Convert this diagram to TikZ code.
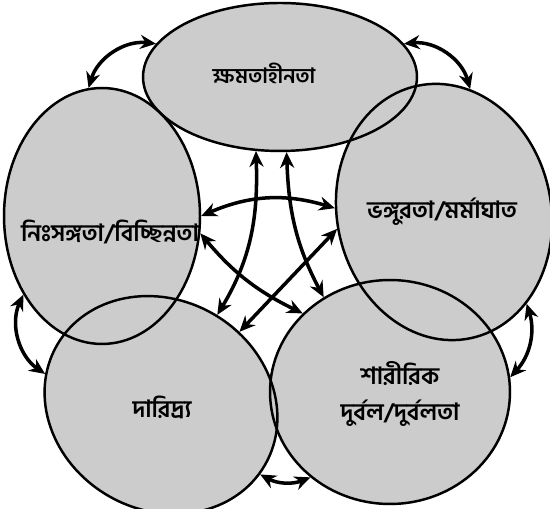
\documentclass[tikz,border=0pt]{standalone}
\usepackage{fontspec}
\newfontfamily\bnfont[Script=Bengali]{Hind Siliguri}
\usetikzlibrary{shapes.geometric,arrows.meta,backgrounds}
\begin{document}
\begin{tikzpicture}[x=0.02cm,y=0.02cm,line cap=round,line join=round,
  cell/.style={ellipse,draw,line width=1.4pt,inner sep=0pt},
  cellfill/.style={fill=black!20},
  word/.style={font=\bnfont\bfseries\fontsize{13.5}{16}\selectfont,align=center,inner sep=0pt},
  link/.style={{Stealth[length=9pt,width=8pt]}-{Stealth[length=9pt,width=8pt]},line width=2pt}]
  \useasboundingbox (0,0) rectangle (550,509);
  \node[cell,minimum width=5.48cm,minimum height=2.96cm] (T) at (280,432) {};
  \node[cell,minimum width=3.92cm,minimum height=5.12cm] (L) at (102,293) {};
  \node[cell,minimum width=4.28cm,minimum height=5.16cm,rotate=12] (R) at (444,297) {};
  \node[cell,minimum width=4.80cm,minimum height=4.20cm,rotate=-30] (BL) at (161,104) {};
  \node[cell,minimum width=4.80cm,minimum height=4.48cm] (BR) at (390,117) {};
  \begin{scope}[on background layer]
    \foreach \n in {T,L,R,BL,BR}
      \fill[cellfill] (\n.0) \foreach \a in {6,12,...,354} {-- (\n.\a)} -- cycle;
  \end{scope}
  \node[word,font=\bnfont\bfseries\fontsize{12}{14}\selectfont] (Tw) at (264,436) {ক্ষমতাহীনতা};
  \node[word] (Lw) at (110,277) {নিঃসঙ্গতা/বিচ্ছিন্নতা};
  \node[word] (Rw) at (442,297) {ভঙ্গুরতা/মর্মাঘাত};
  \node[word] (BLw) at (162,102) {দারিদ্র্য};
  \node[word] (BRw) at (400,115) {শারীরিক\\[4pt]দুর্বল/দুর্বলতা};
  \draw[link] (T.252) to[out=-88,in=59] (BL.88);
  \draw[link] (T.275) to[out=-88,in=118] (BR.125);
  \draw[link] (L.0) to[bend left=20] (R.166);
  \draw[link] (L.350) to[bend right=12] (BR.138);
  \draw[link] (R.177) -- (BL.73);
  \draw[link] (T.165) to[bend right=40] (L.96);
  \draw[link] (T.15) to[bend left=40] (R.66);
  \draw[link] (R.300) to[bend left=30] (BR.7);
  \draw[link] (BL.355) to[bend right=25] (BR.227);
  \draw[link] (L.225) to[bend right=40] (BL.195);
\end{tikzpicture}
\end{document}
